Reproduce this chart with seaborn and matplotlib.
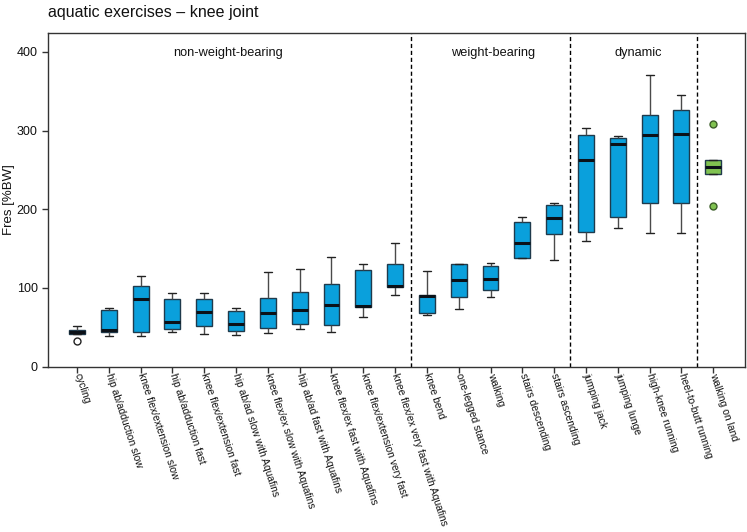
import numpy as np
import pandas as pd
import matplotlib
matplotlib.use("Agg")
import matplotlib.pyplot as plt
import seaborn as sns

# ---------------- data ----------------
categories = [
    "cycling", "hip ab/adduction slow", "knee flex/extension slow",
    "hip ab/adduction fast", "knee flex/extension fast",
    "hip ab/ad slow with Aquafins", "knee flex/ex slow with Aquafins",
    "hip ab/ad fast with Aquafins", "knee flex/ex fast with Aquafins",
    "knee flex/extension very fast", "knee flex/ex very fast with Aquafins",
    "knee bend", "one-legged stance", "walking", "stairs descending",
    "stairs ascending", "jumping jack", "jumping lunge", "high-knee running",
    "heel-to-butt running", "walking on land",
]
whisker_low = [42.0, 39.4, 39.4, 44.5, 41.5, 40.3, 42.4, 48.3, 43.7, 63.5, 91.1,
               65.7, 73.7, 88.6, 137.7, 136.0, 159.3, 176.2, 169.5, 169.5, 244.5]
q1 = [42.0, 44.5, 43.7, 48.3, 51.3, 45.0, 49.2, 54.6, 52.6, 76.0, 100.9,
      67.8, 88.6, 97.1, 137.7, 168.6, 171.2, 189.8, 207.6, 207.6, 244.5]
median = [44.5, 46.6, 86.4, 57.2, 69.1, 54.3, 68.6, 71.7, 78.0, 77.0, 102.5,
          90.0, 109.8, 111.8, 157.2, 189.3, 262.7, 283.0, 294.4, 296.1, 253.4]
q3 = [46.2, 72.4, 102.5, 86.4, 86.4, 70.4, 87.7, 94.5, 104.7, 122.5, 130.1,
      91.5, 130.9, 128.3, 183.5, 205.5, 294.8, 291.0, 320.2, 325.8, 263.0]
whisker_high = [51.0, 75.0, 115.6, 93.6, 93.6, 75.0, 119.9, 123.8, 139.0, 130.9, 156.8,
                122.0, 130.9, 132.2, 190.6, 208.4, 303.7, 292.7, 371.2, 345.2, 263.0]
outlier_low = {"cycling": 33.0, "walking on land": 204.6}
outlier_high = {"walking on land": 308.0}

group_names = ["non-weight-bearing", "weight-bearing", "dynamic"]
group_centers = [4.75, 13.07, 17.66]
group_dividers = [10.5, 15.5, 19.5]

blue = "#0AA0DC"
green = "#80C250"
box_colors = [blue] * 20 + [green]

# Build samples that reproduce each five-number summary exactly (9 points ->
# quartiles at sorted positions 2, 4, 6).
rows = []
for i, cat in enumerate(categories):
    pts = [
        outlier_low.get(cat, whisker_low[i]), whisker_low[i], q1[i],
        median[i], median[i], median[i], q3[i], whisker_high[i],
        outlier_high.get(cat, whisker_high[i]),
    ]
    rows += [(cat, v) for v in pts]
df = pd.DataFrame(rows, columns=["exercise", "Fres"])

# ---------------- plot ----------------
sns.set_theme(style="ticks")
plt.rcParams["font.family"] = ["Liberation Sans", "DejaVu Sans"]

fig = plt.figure(figsize=(7.47, 5.32), dpi=100)
ax = fig.add_axes([0.0643, 0.311, 0.933, 0.627])

sns.boxplot(
    data=df, x="exercise", y="Fres", hue="exercise",
    order=categories, hue_order=categories, palette=box_colors,
    legend=False, width=0.5, saturation=1, whis=1.5, linewidth=1.0,
    linecolor="#1f3a4c",
    medianprops=dict(color="#0b1118", linewidth=2.2),
    whiskerprops=dict(color="#4a4a4a", linewidth=1.0),
    capprops=dict(color="#222222", linewidth=1.0),
    flierprops=dict(marker="o", markersize=5, markerfacecolor="white",
                    markeredgecolor="#222222", markeredgewidth=1.0),
    ax=ax,
)

# colour the fliers of the "walking on land" box green
for ln in ax.lines:
    xd = np.asarray(ln.get_xdata(), dtype=float)
    if ln.get_marker() == "o" and xd.size and np.allclose(xd, 20):
        ln.set_markerfacecolor(green)
        ln.set_markeredgecolor("#3b5d28")

for xd in group_dividers:
    ax.axvline(xd, color="black", linestyle=(0, (3, 2)), linewidth=1.0)

for name, xc in zip(group_names, group_centers):
    ax.text(xc, 399, name, ha="center", va="center", fontsize=9.2, color="#111111")

ax.set_xlim(-0.91, 21.0)
ax.set_ylim(0, 424)
ax.set_yticks([0, 100, 200, 300, 400])
ax.set_xlabel("")
ax.set_ylabel("Fres [%BW]", fontsize=9.5, color="#111111", labelpad=1)
ax.tick_params(axis="both", direction="out", length=4, width=1,
               color="#333333", labelsize=9, labelcolor="#111111")
ax.tick_params(axis="x", pad=1)
ax.set_xticks(range(len(categories)))
ax.set_xticklabels(categories, rotation=-72, ha="left", va="center",
                   rotation_mode="anchor", fontsize=7.35)
for sp in ax.spines.values():
    sp.set_visible(True)
    sp.set_color("#333333")
    sp.set_linewidth(1.0)

fig.text(48 / 747, 1 - 13 / 532, "aquatic exercises \u2013 knee joint",
         ha="left", va="center", fontsize=11.5, color="#111111")

fig.savefig("out.png", dpi=100)
